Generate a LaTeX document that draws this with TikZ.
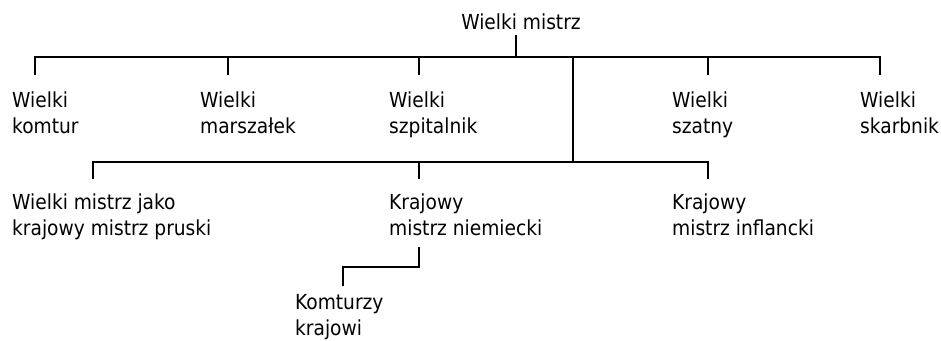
\documentclass[tikz,border=0pt]{standalone}
\usepackage{fontspec}
\setmainfont{DejaVu Sans Condensed}
\begin{document}
\begin{tikzpicture}[x=1pt,y=-1pt,
  lbl/.style={anchor=base west,inner sep=0pt,align=left,font=\fontsize{20.7}{25.8}\selectfont},
  ln/.style={line width=1.6pt,line cap=rect}]
\useasboundingbox (0,0) rectangle (941,340);
% texts (base = baseline of last line)
\node[lbl,anchor=base] (wm) at (521,29) {Wielki mistrz};
\node[lbl] (kom) at (12,133) {Wielki\\komtur};
\node[lbl] (mar) at (200,133) {Wielki\\marszałek};
\node[lbl] (szp) at (389,133) {Wielki\\szpitalnik};
\node[lbl] (sza) at (672,133) {Wielki\\szatny};
\node[lbl] (ska) at (860,133) {Wielki\\skarbnik};
\node[lbl] (pru) at (12,235) {Wielki mistrz jako\\krajowy mistrz pruski};
\node[lbl] (nie) at (389,235) {Krajowy\\mistrz niemiecki};
\node[lbl] (inf) at (672,235) {Krajowy\\mistrz inflancki};
\node[lbl] (kk) at (295,335) {Komturzy\\krajowi};
% coordinates
\coordinate (wmS) at (516,36);
\coordinate (h1L) at (35,57);
\coordinate (h1R) at (880,57);
\coordinate (j1) at (516,57);
\coordinate (j2) at (573,57);
\coordinate (t1) at (35,74);
\coordinate (t2) at (228,74);
\coordinate (t3) at (419,74);
\coordinate (t4) at (708,74);
\coordinate (t5) at (880,74);
\coordinate (h2L) at (93,162);
\coordinate (h2R) at (708,162);
\coordinate (j3) at (573,162);
\coordinate (u1) at (93,178);
\coordinate (u2) at (419,178);
\coordinate (u3) at (708,178);
\coordinate (nS) at (419,248);
\coordinate (nJ) at (419,267);
\coordinate (kJ) at (343,267);
\coordinate (kT) at (343,285);
% connectors
\draw[ln] (wmS) -- (j1);
\draw[ln] (h1L) -- (h1R);
\draw[ln] (t1) -- (t1|-h1L);
\draw[ln] (t2) -- (t2|-h1L);
\draw[ln] (t3) -- (t3|-h1L);
\draw[ln] (t4) -- (t4|-h1L);
\draw[ln] (t5) -- (t5|-h1L);
\draw[ln] (j2) -- (j3);
\draw[ln] (h2L) -- (h2R);
\draw[ln] (u1) -- (u1|-h2L);
\draw[ln] (u2) -- (u2|-h2L);
\draw[ln] (u3) -- (u3|-h2L);
\draw[ln] (nS) -- (nJ) -- (kJ) -- (kT);
\end{tikzpicture}
\end{document}
